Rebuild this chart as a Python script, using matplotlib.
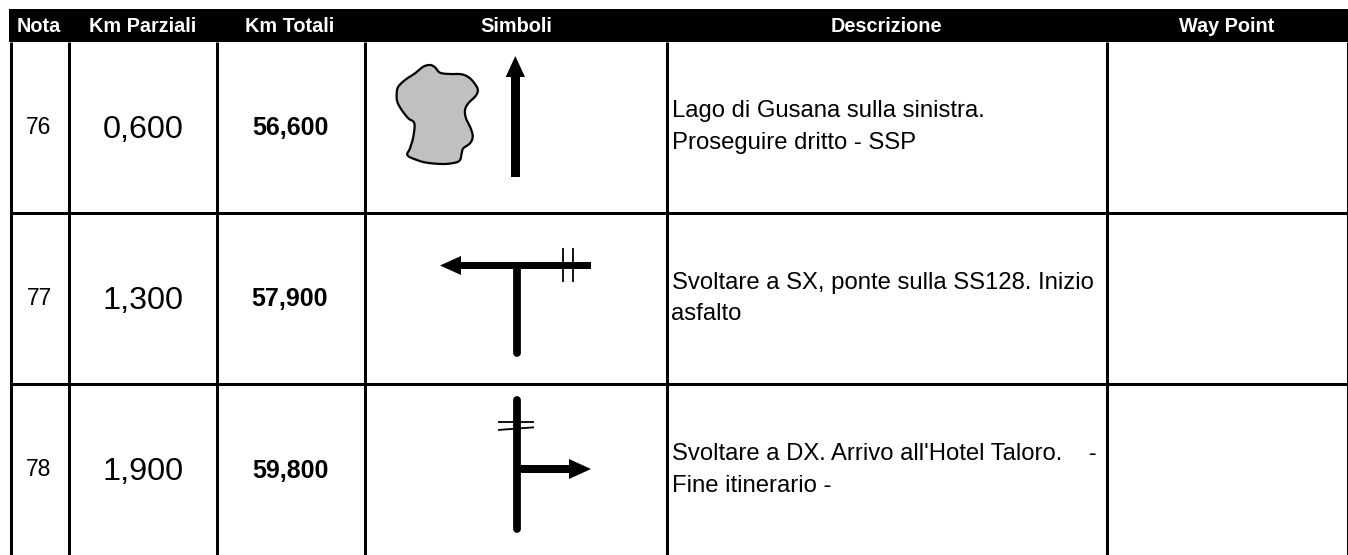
import numpy as np
from matplotlib import pyplot as plt
from matplotlib.patches import Polygon, Rectangle

plt.rcParams['font.family'] = ['Liberation Sans', 'DejaVu Sans']

headers = ['Nota', 'Km Parziali', 'Km Totali', 'Simboli', 'Descrizione', 'Way Point']
note = ['76', '77', '78']
km_parziali = ['0,600', '1,300', '1,900']
km_totali = ['56,600', '57,900', '59,800']
descrizioni = [
    ['Lago di Gusana sulla sinistra.', 'Proseguire dritto - SSP'],
    ['Svoltare a SX, ponte sulla SS128. Inizio', 'asfalto'],
    ["Svoltare a DX. Arrivo all'Hotel Taloro.    -", 'Fine itinerario -'],
]

col_edges = [10.5, 68.5, 216.5, 364.5, 666.7, 1106.7, 1347.5]
row_edges = [42, 212.5, 384, 555]
row_mid = [127, 298.5, 470]
header_x = [38.5, 143, 290, 516, 886.5, 1227]

# outline of the lake, as seen in the symbol
lake_x = [396.7, 398.3, 405, 415, 423.3, 430, 435, 440, 450, 461.7, 470, 476.7, 477.7, 475, 468.3, 465,
          466, 470.7, 472.7, 470, 463.3, 461.7, 460, 455, 443.3, 426.7, 415, 407.3, 410, 413.3, 414.3, 408.3, 401.7, 397.3]
lake_y = [93.3, 86.7, 80, 73.3, 66.7, 65, 67.3, 72.7, 74, 74.3, 78.3, 86.7, 91.7, 96.7, 103.3, 110,
          118.3, 128.3, 136.7, 143.3, 148.3, 153.3, 160, 162.7, 164, 162.7, 159.3, 155, 148.3, 136.7, 123.3, 118.3, 110, 101.7]


def smooth_closed(xs, ys, n=12):
    # closed Catmull-Rom through the outline points
    p = np.column_stack([xs, ys])
    out = []
    for i in range(len(p)):
        p0, p1, p2, p3 = p[i - 1], p[i], p[(i + 1) % len(p)], p[(i + 2) % len(p)]
        for t in np.linspace(0, 1, n, endpoint=False):
            out.append(0.5 * (2 * p1 + (p2 - p0) * t + (2 * p0 - 5 * p1 + 4 * p2 - p3) * t ** 2
                              + (3 * p1 - p0 - 3 * p2 + p3) * t ** 3))
    return np.array(out)


fig = plt.figure(figsize=(13.48, 5.55), dpi=100)
ax = fig.add_axes([0, 0, 1, 1])
ax.set_xlim(0, 1348)
ax.set_ylim(555, 0)
ax.axis('off')

# header band
ax.add_patch(Rectangle((9, 9), 1339, 33, fc='black', ec='none'))
for x, h in zip(header_x, headers):
    ax.text(x, 32.3, h, color='white', fontsize=14.3, fontweight='bold', ha='center', va='baseline')

# grid
for x in col_edges:
    ax.plot([x, x], [42, 555], color='black', lw=2.16, solid_capstyle='butt')
for y in row_edges[1:3]:
    ax.plot([col_edges[0], 1348], [y, y], color='black', lw=2.16, solid_capstyle='butt')

# rows
for i, y in enumerate(row_mid):
    ax.text(39, y + 6.5, note[i], fontsize=16.5, ha='center', va='baseline')
    ax.text(143, y + 10.5, km_parziali[i], fontsize=23.3, ha='center', va='baseline')
    ax.text(290, y + 8, km_totali[i], fontsize=18, fontweight='bold', ha='center', va='baseline')
    ax.text(671.5, y - 10, descrizioni[i][0], fontsize=17.2, ha='left', va='baseline')
    ax.text(671.5, y + 21.5, descrizioni[i][1], fontsize=17.2, ha='left', va='baseline')

# row 76 symbols
ax.add_patch(Polygon(smooth_closed(lake_x, lake_y), closed=True, fc='#c0c0c0', ec='black', lw=1.6, joinstyle='round'))
ax.add_patch(Rectangle((511, 76), 8.5, 101, fc='black', ec='none'))
ax.add_patch(Polygon([(505.7, 77), (525, 77), (515.3, 56)], closed=True, fc='black', ec='none'))

# row 77 symbols
ax.add_patch(Rectangle((460, 261.7), 131, 7.5, fc='black', ec='none'))
ax.add_patch(Polygon([(461, 256), (461, 275), (440, 265.5)], closed=True, fc='black', ec='none'))
ax.plot([517, 517], [268, 353], color='black', lw=5.6, solid_capstyle='round')
ax.plot([563.3, 563.3], [248, 282], color='black', lw=1.3, solid_capstyle='butt')
ax.plot([573.3, 573.3], [248, 282], color='black', lw=1.3, solid_capstyle='butt')

# row 78 symbols
ax.plot([517, 517], [399.5, 529], color='black', lw=5.6, solid_capstyle='round')
ax.add_patch(Rectangle((517, 465), 53, 8, fc='black', ec='none'))
ax.add_patch(Polygon([(569, 459), (569, 479), (591, 469)], closed=True, fc='black', ec='none'))
ax.plot([498, 534], [421.7, 421.7], color='black', lw=1.3, solid_capstyle='butt')
ax.plot([498, 534], [430, 427.3], color='black', lw=1.3, solid_capstyle='butt')

fig.savefig('out.png', dpi=100)
